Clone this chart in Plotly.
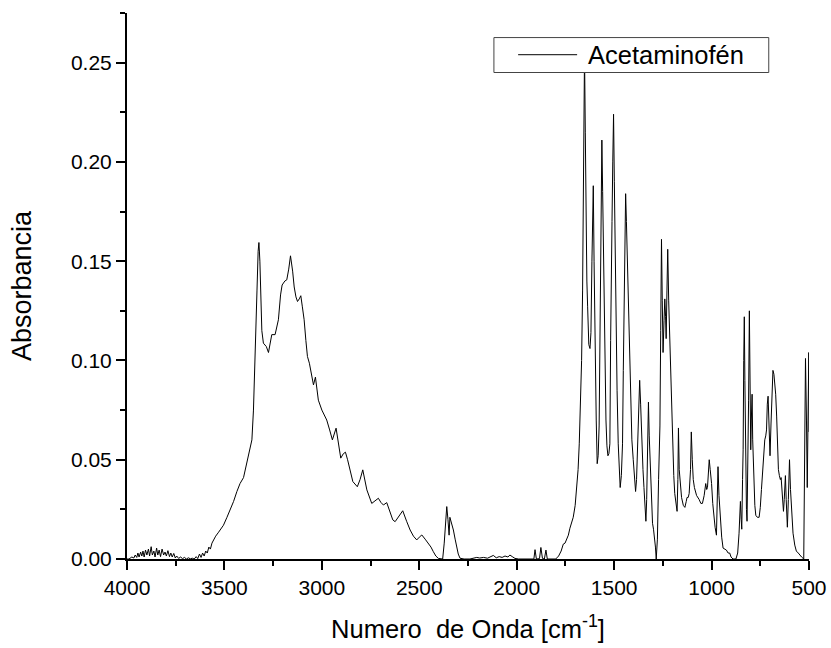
import plotly.graph_objects as go

# Wavenumber (cm^-1) and absorbance
wavenumber = [
    4000, 3990, 3975, 3965, 3958, 3950, 3944, 3938, 3930, 3924, 3918, 3912, 3905, 3898, 3890,
    3884, 3876, 3870, 3862, 3856, 3848, 3842, 3835, 3828, 3820, 3812, 3805, 3798, 3790, 3782,
    3775, 3768, 3760, 3752, 3745, 3735, 3725, 3715, 3705, 3695, 3685, 3675, 3665, 3655, 3645,
    3637, 3628, 3620, 3612, 3604, 3596, 3588, 3580, 3572, 3564, 3556, 3545, 3530, 3505, 3487,
    3470, 3453, 3436, 3420, 3402, 3385, 3370, 3359, 3351, 3342, 3333, 3327, 3323, 3318, 3312,
    3308, 3300, 3295, 3285, 3274, 3265, 3257, 3240, 3223, 3212, 3204, 3190, 3180, 3170, 3161,
    3150, 3142, 3133, 3125, 3116, 3108, 3100, 3091, 3082, 3074, 3064, 3053, 3043, 3033, 3025,
    3018, 3000, 2975, 2960, 2946, 2927, 2915, 2903, 2890, 2879, 2868, 2859, 2841, 2818, 2804,
    2790, 2780, 2769, 2744, 2725, 2710, 2697, 2684, 2667, 2650, 2636, 2624, 2605, 2585, 2565,
    2547, 2530, 2513, 2500, 2487, 2470, 2454, 2440, 2428, 2415, 2402, 2390, 2380, 2372, 2365,
    2359, 2353, 2347, 2343, 2339, 2332, 2325, 2316, 2308, 2300, 2291, 2270, 2240, 2220, 2205,
    2190, 2170, 2150, 2135, 2120, 2105, 2090, 2075, 2060, 2045, 2035, 2020, 2009, 1990, 1960,
    1930, 1912, 1906, 1899, 1883, 1876, 1868, 1858, 1850, 1843, 1800, 1785, 1772, 1761, 1752,
    1744, 1735, 1727, 1718, 1710, 1700, 1693, 1685, 1679, 1672, 1667, 1662, 1659, 1656, 1652,
    1648, 1645, 1640, 1636, 1630, 1624, 1619, 1614, 1610, 1607, 1603, 1600, 1597, 1592, 1587,
    1582, 1577, 1572, 1567, 1563, 1559, 1555, 1551, 1546, 1542, 1537, 1532, 1527, 1522, 1518,
    1514, 1511, 1507, 1503, 1499, 1495, 1491, 1485, 1479, 1474, 1469, 1463, 1457, 1453, 1449,
    1445, 1441, 1437, 1432, 1428, 1422, 1416, 1409, 1402, 1396, 1390, 1385, 1380, 1374, 1369,
    1364, 1358, 1352, 1347, 1342, 1337, 1333, 1328, 1324, 1320, 1313, 1308, 1303, 1298, 1294,
    1288, 1284, 1278, 1272, 1265, 1261, 1257, 1253, 1249, 1244, 1240, 1236, 1233, 1229, 1225,
    1220, 1214, 1207, 1200, 1194, 1189, 1183, 1177, 1173, 1170, 1166, 1161, 1154, 1145, 1137,
    1130, 1126, 1120, 1115, 1108, 1104, 1099, 1094, 1088, 1077, 1064, 1055, 1047, 1038, 1030,
    1025, 1021, 1016, 1012, 1007, 1000, 994, 989, 982, 975, 971, 967, 962, 958, 954,
    948, 941, 932, 924, 915, 907, 900, 890, 875, 866, 859, 855, 852, 848, 845,
    841, 838, 835, 832, 829, 825, 821, 818, 814, 810, 806, 803, 799, 796, 792,
    789, 784, 778, 773, 765, 756, 750, 744, 738, 732, 727, 722, 718, 714, 710,
    706, 702, 700, 695, 690, 685, 680, 675, 671, 666, 662, 657, 652, 647, 643,
    638, 631, 627, 621, 617, 611, 606, 600, 595, 589, 582, 573, 565, 555, 548,
    538, 527, 522, 518, 513, 509, 505, 501, 500,
]
absorbance = [
    0.0000, 0.0000, 0.0010, 0.0005, 0.0020, 0.0008, 0.0030, 0.0010, 0.0035, 0.0015, 0.0040, 0.0010, 0.0045, 0.0020, 0.0050,
    0.0015, 0.0062, 0.0020, 0.0040, 0.0010, 0.0055, 0.0020, 0.0045, 0.0012, 0.0050, 0.0020, 0.0035, 0.0015, 0.0042, 0.0012,
    0.0030, 0.0010, 0.0028, 0.0005, 0.0015, 0.0003, 0.0010, 0.0002, 0.0008, 0.0000, 0.0006, 0.0001, 0.0004, 0.0000, 0.0012,
    0.0002, 0.0025, 0.0008, 0.0030, 0.0015, 0.0040, 0.0030, 0.0060, 0.0050, 0.0080, 0.0096, 0.0115, 0.0135, 0.0170, 0.0210,
    0.0250, 0.0290, 0.0340, 0.0380, 0.0410, 0.0480, 0.0550, 0.0600, 0.0750, 0.1000, 0.1350, 0.1550, 0.1594, 0.1500, 0.1300,
    0.1150, 0.1087, 0.1080, 0.1070, 0.1040, 0.1080, 0.1130, 0.1130, 0.1205, 0.1330, 0.1380, 0.1400, 0.1406, 0.1460, 0.1527,
    0.1450, 0.1370, 0.1320, 0.1297, 0.1310, 0.1326, 0.1270, 0.1205, 0.1100, 0.1020, 0.0986, 0.0930, 0.0877, 0.0916, 0.0850,
    0.0800, 0.0750, 0.0700, 0.0650, 0.0600, 0.0659, 0.0570, 0.0508, 0.0530, 0.0538, 0.0500, 0.0465, 0.0390, 0.0364, 0.0400,
    0.0449, 0.0400, 0.0348, 0.0280, 0.0295, 0.0306, 0.0285, 0.0272, 0.0284, 0.0240, 0.0197, 0.0188, 0.0215, 0.0243, 0.0190,
    0.0146, 0.0115, 0.0096, 0.0110, 0.0121, 0.0100, 0.0079, 0.0060, 0.0037, 0.0015, 0.0003, 0.0000, 0.0000, 0.0080, 0.0180,
    0.0264, 0.0200, 0.0120, 0.0210, 0.0197, 0.0175, 0.0146, 0.0100, 0.0062, 0.0025, 0.0004, 0.0000, 0.0000, 0.0004, 0.0008,
    0.0005, 0.0008, 0.0004, 0.0010, 0.0018, 0.0006, 0.0012, 0.0008, 0.0015, 0.0010, 0.0020, 0.0010, 0.0003, 0.0000, 0.0000,
    0.0000, 0.0000, 0.0047, 0.0000, 0.0002, 0.0058, 0.0003, 0.0000, 0.0045, 0.0000, 0.0000, 0.0015, 0.0040, 0.0075, 0.0080,
    0.0096, 0.0120, 0.0155, 0.0180, 0.0210, 0.0270, 0.0340, 0.0450, 0.0580, 0.0780, 0.1000, 0.1350, 0.1670, 0.2150, 0.2550,
    0.2150, 0.1670, 0.1400, 0.1270, 0.1080, 0.1060, 0.1140, 0.1500, 0.1800, 0.1880, 0.1500, 0.1200, 0.1000, 0.0700, 0.0480,
    0.0520, 0.0670, 0.1200, 0.1800, 0.2110, 0.1850, 0.1550, 0.1340, 0.0950, 0.0700, 0.0570, 0.0520, 0.0530, 0.0580, 0.1100,
    0.1680, 0.1700, 0.2000, 0.2240, 0.1900, 0.1550, 0.1250, 0.0850, 0.0580, 0.0430, 0.0360, 0.0420, 0.0580, 0.0950, 0.1340,
    0.1650, 0.1840, 0.1700, 0.1500, 0.1340, 0.1000, 0.0750, 0.0600, 0.0500, 0.0420, 0.0340, 0.0400, 0.0580, 0.0780, 0.0900,
    0.0780, 0.0580, 0.0450, 0.0360, 0.0270, 0.0190, 0.0300, 0.0550, 0.0790, 0.0620, 0.0420, 0.0280, 0.0180, 0.0150, 0.0120,
    0.0060, 0.0000, 0.0100, 0.0400, 0.0670, 0.1150, 0.1610, 0.1300, 0.1040, 0.1200, 0.1310, 0.1220, 0.1110, 0.1350, 0.1560,
    0.1300, 0.1080, 0.0820, 0.0580, 0.0420, 0.0330, 0.0280, 0.0240, 0.0400, 0.0660, 0.0450, 0.0380, 0.0310, 0.0270, 0.0260,
    0.0290, 0.0310, 0.0310, 0.0330, 0.0450, 0.0640, 0.0500, 0.0400, 0.0360, 0.0320, 0.0300, 0.0280, 0.0280, 0.0320, 0.0380,
    0.0350, 0.0360, 0.0450, 0.0500, 0.0450, 0.0380, 0.0280, 0.0210, 0.0160, 0.0120, 0.0250, 0.0465, 0.0320, 0.0240, 0.0180,
    0.0110, 0.0055, 0.0050, 0.0045, 0.0030, 0.0030, 0.0010, 0.0000, 0.0000, 0.0030, 0.0130, 0.0280, 0.0290, 0.0200, 0.0150,
    0.0400, 0.0550, 0.1000, 0.1220, 0.0900, 0.0500, 0.0250, 0.0190, 0.0400, 0.0800, 0.1250, 0.1000, 0.0550, 0.0700, 0.0830,
    0.0600, 0.0380, 0.0270, 0.0220, 0.0210, 0.0210, 0.0260, 0.0350, 0.0450, 0.0550, 0.0600, 0.0620, 0.0650, 0.0780, 0.0820,
    0.0700, 0.0550, 0.0520, 0.0680, 0.0850, 0.0950, 0.0930, 0.0880, 0.0830, 0.0720, 0.0600, 0.0450, 0.0420, 0.0400, 0.0410,
    0.0350, 0.0240, 0.0300, 0.0420, 0.0300, 0.0160, 0.0300, 0.0500, 0.0350, 0.0210, 0.0130, 0.0070, 0.0040, 0.0030, 0.0020,
    0.0010, 0.0000, 0.0500, 0.1010, 0.0700, 0.0360, 0.0700, 0.1040, 0.0640,
]

series_name = "Acetaminofén"
x_ticks = [4000, 3500, 3000, 2500, 2000, 1500, 1000, 500]
y_ticks = [0.00, 0.05, 0.10, 0.15, 0.20, 0.25]

FONT = "Liberation Sans, Arial, sans-serif"

fig = go.Figure()
fig.add_trace(go.Scatter(
    x=wavenumber, y=absorbance, mode="lines", name=series_name,
    line=dict(color="black", width=1), showlegend=False,
))

axis_common = dict(
    showline=True, linecolor="black", linewidth=2, mirror=False,
    showgrid=False, zeroline=False, automargin=False,
    ticks="outside", ticklen=9, tickwidth=2, tickcolor="black",
    tickfont=dict(family=FONT, size=21, color="black"),
)

fig.update_xaxes(
    range=[4000, 500], tickvals=x_ticks, ticktext=[str(v) for v in x_ticks],
    minor=dict(ticks="outside", ticklen=5, tickwidth=2, tickcolor="black", dtick=250, tick0=500),
    title=dict(text="Numero&nbsp; de Onda [cm<sup>-1</sup>]", font=dict(family=FONT, size=25.5, color="black"), standoff=22),
    **axis_common,
)
fig.update_yaxes(
    range=[0, 0.275], tickvals=y_ticks, ticktext=[f"{v:.2f}" for v in y_ticks],
    minor=dict(ticks="outside", ticklen=5, tickwidth=2, tickcolor="black", dtick=0.025, tick0=0),
    title=dict(text="Absorbancia", font=dict(family=FONT, size=27, color="black"), standoff=31),
    **axis_common,
)

# Legend box (Origin style): frame, line sample and label
leg_x0, leg_x1, leg_y0, leg_y1 = 0.538, 0.941, 0.891, 0.955
leg_line_x0, leg_line_x1, leg_mid = 0.5735, 0.660, 0.9236
fig.add_shape(type="rect", xref="paper", yref="paper",
              x0=leg_x0, x1=leg_x1, y0=leg_y0, y1=leg_y1,
              line=dict(color="#444444", width=1), fillcolor="white", layer="above")
fig.add_shape(type="line", xref="paper", yref="paper",
              x0=leg_line_x0, x1=leg_line_x1, y0=leg_mid, y1=leg_mid,
              line=dict(color="black", width=1), layer="above")
fig.add_annotation(xref="paper", yref="paper", x=0.6725, y=leg_mid,
                   xanchor="left", yanchor="middle", showarrow=False,
                   text=series_name, font=dict(family=FONT, size=25.5, color="black"))

fig.update_layout(
    width=831, height=648,
    margin=dict(l=127, r=22, t=13, b=89),
    paper_bgcolor="white", plot_bgcolor="white",
    showlegend=False,
)

fig.write_html("out.html")
